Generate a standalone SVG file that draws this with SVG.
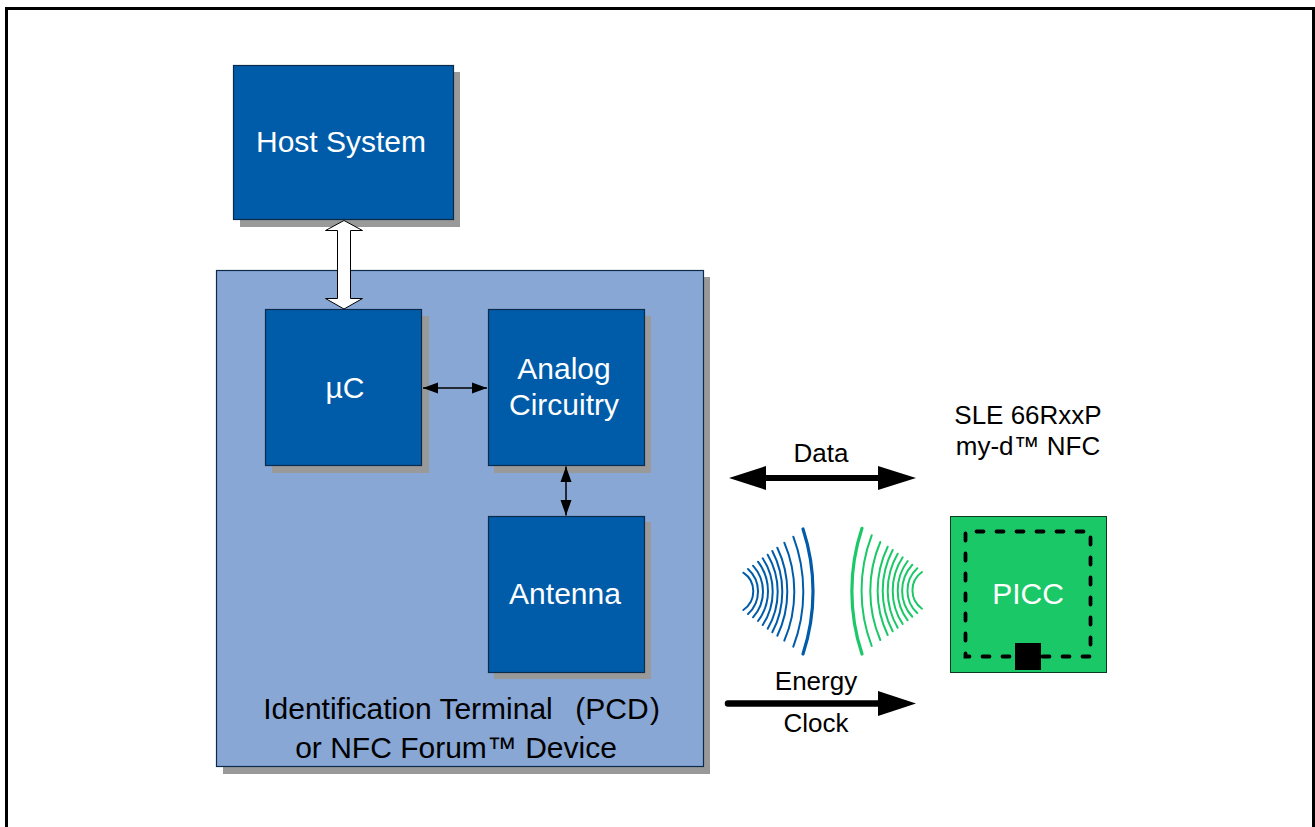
<svg xmlns="http://www.w3.org/2000/svg" width="1315" height="827" viewBox="0 0 1315 827">
<style>
text{font-family:"Liberation Sans",Arial,sans-serif;text-anchor:middle}
.w{fill:#fff;font-size:30px}
.t{fill:#000;font-size:30px}
.k{fill:#000;font-size:26px}
.shadow{fill:#999}
.box{fill:#005ca9;stroke:#0c2b4a;stroke-width:1.2}
.blue{fill:none;stroke:#005ca9;stroke-width:2;stroke-linecap:round}
.green{fill:none;stroke:#1bc868;stroke-width:2;stroke-linecap:round}
</style>
<rect width="1315" height="827" fill="#fff"/>
<path d="M6.500 827V8.500H1313.500V827" fill="none" stroke="#000" stroke-width="3"/>
<g id="host"><rect class="shadow" x="240" y="72" width="220" height="155"/><rect class="box" x="233.500" y="65.500" width="220" height="154"/><text class="w" x="341" y="152">Host System</text></g>
<g id="terminal"><rect class="shadow" x="223" y="277" width="487" height="497"/><rect x="216.500" y="270.500" width="487" height="496" fill="#88a7d5" stroke="#0c2b4a" stroke-width="1.200"/><text class="t" x="408" y="719">Identification Terminal</text><text class="t" x="612" y="719">(PCD</text><text class="t" x="655" y="719">)</text><text class="t" x="456" y="758">or NFC Forum™ Device</text></g>
<g id="uc"><rect class="shadow" x="272" y="316" width="157" height="157"/><rect class="box" x="265.500" y="309.500" width="156" height="156"/><text class="w" x="345" y="398">µC</text></g>
<g id="analog"><rect class="shadow" x="494" y="316" width="157" height="157"/><rect class="box" x="488.500" y="309.500" width="156" height="156"/><text class="w" x="564" y="379">Analog</text><text class="w" x="564" y="415">Circuitry</text></g>
<g id="antenna"><rect class="shadow" x="494" y="522" width="157" height="157"/><rect class="box" x="488.500" y="516.500" width="156" height="156"/><text class="w" x="565" y="604">Antenna</text></g>
<g id="picc"><rect x="950.500" y="516.500" width="156" height="156" fill="#1bc868" stroke="#0c3a20" stroke-width="1"/><rect x="965.500" y="531.500" width="125" height="125" fill="none" stroke="#000" stroke-width="3.800" stroke-dasharray="7 13" stroke-dashoffset="-11" stroke-linecap="round"/><rect x="1015" y="643" width="26" height="27" fill="#000"/><text class="w" x="1028" y="604">PICC</text></g>
<g id="labels"><text class="k" x="1028" y="424">SLE 66RxxP</text><text class="k" x="1028" y="455">my-d™ NFC</text><text class="k" x="821" y="462">Data</text><text class="k" x="816" y="690">Energy</text><text class="k" x="816" y="732">Clock</text></g>
<g id="connectors">
<path d="M344 220.500L362.500 230.500H350.500V298.500H362.500L344 309L325.500 298.500H337.500V230.500H325.500Z" fill="#fff" stroke="#000" stroke-width="1"/>
<path d="M423 388H487" stroke="#000" stroke-width="1.500"/><path d="M423 388L438 382.500V393.500ZM487 388L472 382.500V393.500Z" fill="#000"/>
<path d="M566 466.500V515.500" stroke="#000" stroke-width="1.500"/><path d="M566 466.500L560.500 482H571.500ZM566 515.500L560.500 500H571.500Z" fill="#000"/>
<path d="M765 478H880" stroke="#000" stroke-width="6"/><path d="M729 478L766 466V490ZM916 478L878 466V490Z" fill="#000"/>
<path d="M728 703.500H880" stroke="#000" stroke-width="6.500" stroke-linecap="round"/><path d="M916 703.500L878 691V716Z" fill="#000"/>
<g id="waves-blue">
<path class="blue" d="M743.300 572.700A22.400 22.400 0 0 1 743.300 610"/>
<path class="blue" d="M748 569A30.300 30.300 0 0 1 748 614"/>
<path class="blue" d="M753 565.700A38.300 38.300 0 0 1 753 617.300"/>
<path class="blue" d="M758 561.700A49 49 0 0 1 758 621"/>
<path class="blue" d="M762.700 558.300A60.600 60.600 0 0 1 762.700 625"/>
<path class="blue" d="M767.700 554.700A73.500 73.500 0 0 1 767.700 628.700"/>
<path class="blue" d="M772.300 551A87.600 87.600 0 0 1 772.300 632.300"/>
<path class="blue" d="M777.300 547.700A101.800 101.800 0 0 1 777.300 635.700"/>
<path class="blue" d="M784.300 542.700A125 125 0 0 1 784.300 640.700"/>
<path class="blue" d="M793.300 536.700A156 156 0 0 1 793.300 646.700"/>
<path class="blue" style="stroke-width:3.200" d="M803 529A200 200 0 0 1 803 654"/>
</g>
<g id="waves-green">
<path class="green" d="M922 572A22.400 22.400 0 0 0 922 608.700"/>
<path class="green" d="M917.300 568.300A30.300 30.300 0 0 0 917.300 613"/>
<path class="green" d="M912.300 564.700A38.300 38.300 0 0 0 912.300 616.700"/>
<path class="green" d="M907.700 561A49 49 0 0 0 907.700 620.300"/>
<path class="green" d="M902.700 557.300A60.600 60.600 0 0 0 902.700 624"/>
<path class="green" d="M897.700 553.700A73.500 73.500 0 0 0 897.700 627.700"/>
<path class="green" d="M892.700 550A87.600 87.600 0 0 0 892.700 631.300"/>
<path class="green" d="M887.700 546.700A101.800 101.800 0 0 0 887.700 635"/>
<path class="green" d="M880.300 542A125 125 0 0 0 880.300 640"/>
<path class="green" d="M871.700 535.300A156 156 0 0 0 871.700 646"/>
<path class="green" style="stroke-width:3.200" d="M862 528.300A200 200 0 0 0 862 654"/>
</g>
</g>
</svg>
